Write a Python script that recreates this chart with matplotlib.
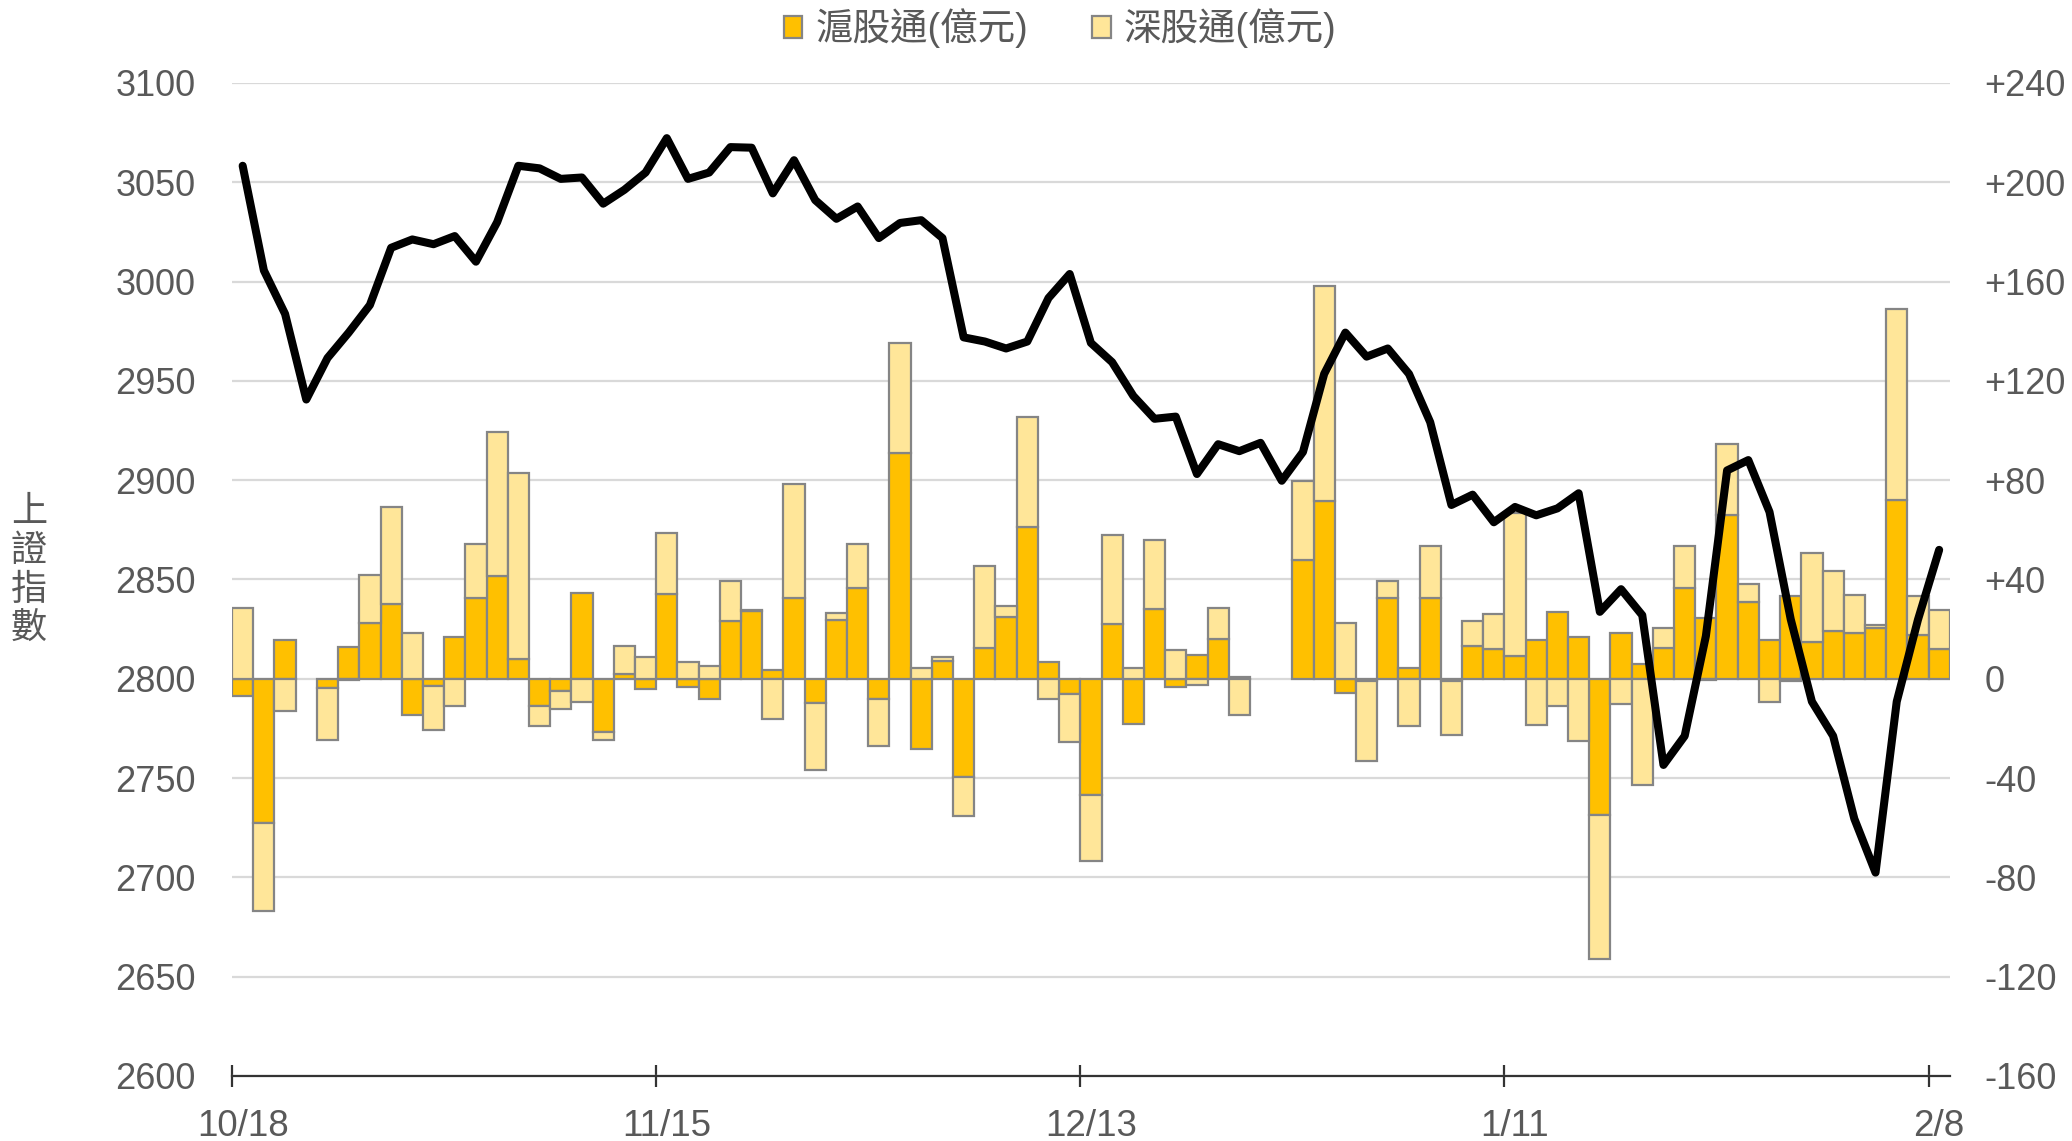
import numpy as np
import matplotlib
matplotlib.use('Agg')
import matplotlib.pyplot as plt
from matplotlib.patches import Patch

plt.rcParams['font.family'] = ['Liberation Sans', 'Noto Sans CJK TC', 'DejaVu Sans']

# trading days (Shanghai), 10/18 .. 2/8
dates = ['10/18', '10/19', '10/20', '10/23', '10/24', '10/25', '10/26', '10/27', '10/30', '10/31',
         '11/1', '11/2', '11/3', '11/6', '11/7', '11/8', '11/9', '11/10', '11/13', '11/14',
         '11/15', '11/16', '11/17', '11/20', '11/21', '11/22', '11/23', '11/24', '11/27', '11/28',
         '11/29', '11/30', '12/1', '12/4', '12/5', '12/6', '12/7', '12/8', '12/11', '12/12',
         '12/13', '12/14', '12/15', '12/18', '12/19', '12/20', '12/21', '12/22', '12/25', '12/26',
         '12/27', '12/28', '12/29', '1/2', '1/3', '1/4', '1/5', '1/8', '1/9', '1/10',
         '1/11', '1/12', '1/15', '1/16', '1/17', '1/18', '1/19', '1/22', '1/23', '1/24',
         '1/25', '1/26', '1/29', '1/30', '1/31', '2/1', '2/2', '2/5', '2/6', '2/7',
         '2/8']

nan = np.nan
# 滬股通 (億元)
sh = [-6.9, -58.0, 15.8, nan, -3.6, 12.8, 22.5, 30.3, -14.4, -2.8,
      16.9, 32.5, 41.4, 8.0, -10.8, -5.0, 34.7, -21.4, 1.9, -4.2,
      34.2, -3.3, -8.0, 23.3, 27.2, 3.6, 32.5, -9.7, 23.6, 36.4,
      -8.0, 90.8, -28.3, 7.2, -39.4, 12.2, 25.0, 61.1, 6.9, -6.1,
      -46.9, 21.9, -18.3, 28.0, -3.3, 9.4, 16.1, 0.8, nan, nan,
      47.8, 71.7, -5.6, -0.8, 32.5, 4.4, 32.5, -1.0, 13.3, 12.0,
      9.2, 15.6, 26.7, 16.9, -54.7, 18.6, 5.8, 12.5, 36.7, 24.4,
      66.1, 30.8, 15.8, 33.3, 14.7, 19.4, 18.3, 20.6, 72.2, 17.5,
      12.0]
# 深股通 (億元)
sz = [28.6, -35.6, -13.0, nan, -21.0, -0.5, 19.4, 38.9, 18.6, -18.0,
      -11.1, 21.7, 57.8, 74.7, -8.3, -7.2, -9.4, -3.3, 11.1, 8.9,
      24.7, 6.9, 5.0, 16.1, 0.3, -16.1, 46.1, -26.9, 3.0, 18.0,
      -18.9, 44.4, 4.4, 1.7, -15.8, 33.3, 4.4, 44.2, -8.0, -19.4,
      -26.7, 36.1, 4.4, 27.8, 11.4, -2.5, 12.5, -14.4, nan, nan,
      31.7, 86.4, 22.5, -32.2, 6.7, -19.2, 21.1, -21.7, 10.0, 13.9,
      57.5, -18.6, -11.1, -25.0, -58.3, -10.3, -42.8, 7.8, 16.7, -0.5,
      28.6, 7.5, -9.4, -1.0, 36.1, 23.9, 15.3, 1.1, 76.7, 15.8,
      15.8]
# 上證指數
idx = [3058.3, 3005.6, 2983.7, 2940.6, 2961.5, 2974.3, 2988.2, 3017.0, 3021.2, 3018.8,
       3022.9, 3010.0, 3029.9, 3058.3, 3057.0, 3051.7, 3052.4, 3039.2, 3046.2, 3054.9,
       3072.2, 3051.7, 3054.9, 3067.7, 3067.4, 3044.4, 3061.1, 3041.0, 3031.6, 3037.8,
       3021.9, 3029.5, 3030.9, 3021.9, 2971.9, 2969.8, 2966.3, 2969.8, 2991.7, 3003.8,
       2969.1, 2959.4, 2942.4, 2930.9, 2932.0, 2903.1, 2918.1, 2914.6, 2918.8, 2899.7,
       2914.2, 2953.5, 2974.3, 2962.2, 2966.3, 2953.5, 2929.2, 2887.5, 2892.7, 2878.8,
       2886.5, 2882.3, 2885.8, 2893.4, 2833.7, 2845.1, 2832.0, 2756.6, 2771.2, 2821.5,
       2904.9, 2910.1, 2884.0, 2830.0, 2788.5, 2771.2, 2729.5, 2702.4, 2788.5, 2829.7,
       2864.9]

label_every = 20

sh = np.array(sh)
sz = np.array(sz)
x = np.arange(len(dates))
# excel style stacking: positives on positives, negatives on negatives
sz_bottom = np.where(sz >= 0, np.maximum(sh, 0), np.minimum(sh, 0))

dark = '#FFC000'
light = '#FFE699'
edge = '#858585'
txt = '#595959'

fig = plt.figure(figsize=(20.72, 11.41), dpi=100)
ax = fig.add_axes([0.112, 0.057, 0.829, 0.8703])
ax2 = ax.twinx()

ax.bar(x, sh, width=1.0, color=dark, edgecolor=edge, linewidth=1.6, zorder=2)
ax.bar(x, sz, width=1.0, bottom=sz_bottom, color=light, edgecolor=edge, linewidth=1.6, zorder=2)
ax2.plot(x, idx, color='black', linewidth=5.8, solid_joinstyle='round', solid_capstyle='round', zorder=3)

# right axis = flows, left axis = index
ax.set_ylim(-160, 240)
ax.set_yticks(np.arange(-160, 241, 40))
ax.set_yticklabels([('+%d' % v) if v > 0 else str(v) for v in range(-160, 241, 40)])
ax.yaxis.tick_right()
ax2.set_ylim(2600, 3100)
ax2.set_yticks(np.arange(2600, 3101, 50))
ax2.yaxis.tick_left()

ax.set_axisbelow(True)
ax.grid(axis='y', color='#D9D9D9', linewidth=1.6)
ax.set_xlim(-0.5, len(dates) - 0.5)

for a in (ax, ax2):
    for s in ['top', 'left', 'right', 'bottom']:
        a.spines[s].set_visible(False)
ax.spines['bottom'].set_visible(True)
ax.spines['bottom'].set_color('#333333')
ax.spines['bottom'].set_linewidth(1.6)

ax.tick_params(axis='y', length=0, pad=25, labelsize=26, labelcolor=txt)
ax2.tick_params(axis='y', length=0, pad=26, labelsize=26, labelcolor=txt)

lab_pos = list(range(0, len(dates), label_every))
ax.set_xticks(lab_pos)
ax.set_xticklabels([dates[i] for i in lab_pos])
ax.set_xticks([p - 0.5 for p in lab_pos], minor=True)
ax.tick_params(axis='x', which='major', length=0, pad=24, labelsize=26.5, labelcolor=txt)
ax.tick_params(axis='x', which='minor', direction='inout', length=16, width=1.6, color='#333333')

fig.text(0.014, 0.5, '上\n證\n指\n數', fontsize=26, color=txt, ha='center', va='center',
         linespacing=1.1, family=['Noto Sans CJK TC'])

handles = [Patch(facecolor=dark, edgecolor=edge, linewidth=1.6, label='滬股通(億元)'),
           Patch(facecolor=light, edgecolor=edge, linewidth=1.6, label='深股通(億元)')]
fig.legend(handles=handles, loc='center', bbox_to_anchor=(0.5116, 0.975), ncol=2, frameon=False,
           fontsize=27, labelcolor=txt, handlelength=0.5, handleheight=0.5,
           handletextpad=0.35, columnspacing=1.7)

fig.savefig('out.png', dpi=100)
